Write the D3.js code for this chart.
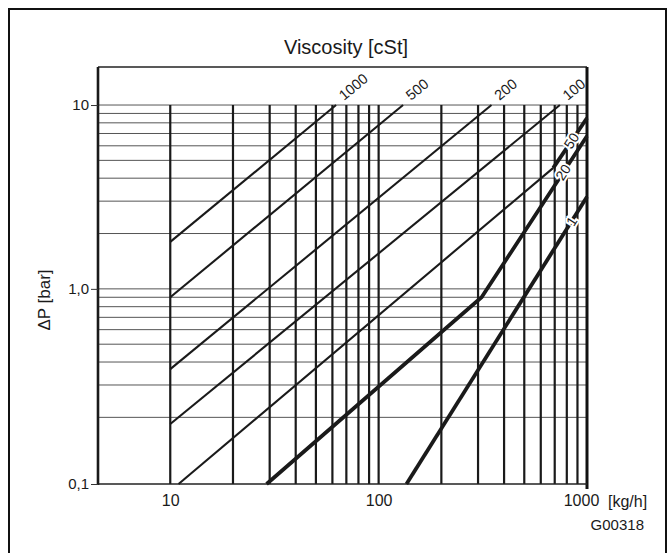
<!DOCTYPE html>
<html>
<head>
<meta charset="utf-8">
<script src="https://cdn.jsdelivr.net/npm/d3@7"></script>
<style>
    body { margin: 0; background: #fff; }
    svg text { font-family: "Liberation Sans", Arial, sans-serif; fill: #1a1a1a; }
</style>
</head>
<body>
<svg id="chart"></svg>
<script>
//Constants
const width = 671, height = 553;
const plot = {left: 98, top: 67, right: 587, bottom: 484};

//Data (flow in kg/h, pressure drop in bar)
const flowDomain = [4.5, 1000];
const dpDomain = [0.0868, 16.1];
const curve1000 = [[10, 1.8], [62.5, 10]];
const curve500 = [[10, 0.9], [131, 10]];
const curve200 = [[10, 0.366], [348, 10]];
const curve100 = [[10, 0.184], [741, 10]];
const curve50 = [[10.96, 0.0868], [689, 4.55], [1000, 8.5]];
const curve20 = [[29, 0.0868], [312, 0.9], [1000, 6.78]];
const curve1 = [[136, 0.0868], [1000, 3.17]];
const viscosities = ["1000", "500", "200", "100", "50", "20", "1"];
const inlineLabelFlow = [null, null, null, null, 843, 769, 843];

const flowGrid = [10, 20, 30, 40, 50, 60, 70, 80, 90, 100, 200, 300, 400, 500, 600, 700, 800, 900];
const dpGrid = [0.2, 0.3, 0.4, 0.5, 0.6, 0.7, 0.8, 0.9, 1, 2, 3, 4, 5, 6, 7, 8, 9, 10];
const flowTicks = [10, 100, 1000];
const flowTickLabels = ["10", "100", "1000"];
const dpTicks = [0.0868, 1, 10];
const dpTickLabels = ["0,1", "1,0", "10"];

// segment index from which a curve is drawn heavy
const heavyFrom = [99, 99, 99, 99, 1, 0, 0];

const svg = d3.select('#chart')
    .attr('width', width)
    .attr('height', height);

const x = d3.scaleLog().domain(flowDomain).range([plot.left, plot.right]);
const y = d3.scaleLog().domain(dpDomain).range([plot.bottom, plot.top]);

// outer frame
svg.append('rect')
    .attr('x', 9).attr('y', 9)
    .attr('width', 657).attr('height', 560)
    .attr('fill', 'none')
    .attr('stroke', '#111')
    .attr('stroke-width', 2);

// horizontal grid
svg.append('g').selectAll('line')
    .data(dpGrid)
    .enter().append('line')
    .attr('x1', plot.left).attr('x2', plot.right + 1)
    .attr('y1', d => y(d)).attr('y2', d => y(d))
    .attr('stroke', '#555')
    .attr('stroke-width', 1);

// vertical grid
svg.append('g').selectAll('line')
    .data(flowGrid)
    .enter().append('line')
    .attr('x1', d => x(d)).attr('x2', d => x(d))
    .attr('y1', y(10)).attr('y2', plot.bottom)
    .attr('stroke', '#1a1a1a')
    .attr('stroke-width', 2.2);

// plot frame
svg.append('line')
    .attr('x1', plot.left).attr('x2', plot.right)
    .attr('y1', plot.top).attr('y2', plot.top)
    .attr('stroke', '#222').attr('stroke-width', 1.5);
svg.append('line')
    .attr('x1', plot.left).attr('x2', plot.left)
    .attr('y1', plot.top).attr('y2', plot.bottom + 1)
    .attr('stroke', '#1a1a1a').attr('stroke-width', 2.6);
svg.append('line')
    .attr('x1', x(1000)).attr('x2', x(1000))
    .attr('y1', plot.top).attr('y2', plot.bottom + 5)
    .attr('stroke', '#111').attr('stroke-width', 3);
svg.append('line')
    .attr('x1', plot.left).attr('x2', plot.right)
    .attr('y1', plot.bottom).attr('y2', plot.bottom)
    .attr('stroke', '#222').attr('stroke-width', 1.5);

// curves
const curves = [curve1000, curve500, curve200, curve100, curve50, curve20, curve1];
const line = d3.line().x(d => x(d[0])).y(d => y(d[1]));
const curveG = svg.append('g');

curves.forEach((pts, i) => {
    if (heavyFrom[i] > 0) {
        curveG.append('path')
            .attr('d', line(pts.slice(0, Math.min(heavyFrom[i], pts.length - 1) + 1)))
            .attr('fill', 'none')
            .attr('stroke', '#1a1a1a')
            .attr('stroke-width', 2.1);
    }
    if (heavyFrom[i] < pts.length - 1) {
        curveG.append('path')
            .attr('d', line(pts.slice(heavyFrom[i])))
            .attr('fill', 'none')
            .attr('stroke', '#1a1a1a')
            .attr('stroke-width', 3.8);
    }
});

// viscosity labels
const labelG = svg.append('g');
curves.forEach((pts, i) => {
    if (inlineLabelFlow[i] === null) {
        const a = pts[pts.length - 2], b = pts[pts.length - 1];
        const ang = Math.atan2(y(b[1]) - y(a[1]), x(b[0]) - x(a[0])) * 180 / Math.PI;
        const px = x(b[0]) + 8, py = y(b[1]) - 4;
        labelG.append('text')
            .attr('transform', `translate(${px},${py}) rotate(${ang})`)
            .attr('font-size', 14.5)
            .text(viscosities[i]);
    } else {
        const fx = inlineLabelFlow[i];
        let k = 0;
        while (k < pts.length - 2 && pts[k + 1][0] < fx) k++;
        const a = pts[k], b = pts[k + 1];
        const t = (Math.log(fx) - Math.log(a[0])) / (Math.log(b[0]) - Math.log(a[0]));
        const fy = Math.exp(Math.log(a[1]) + t * (Math.log(b[1]) - Math.log(a[1])));
        const ang = Math.atan2(y(b[1]) - y(a[1]), x(b[0]) - x(a[0])) * 180 / Math.PI;
        labelG.append('text')
            .attr('transform', `translate(${x(fx)},${y(fy)}) rotate(${ang})`)
            .attr('font-size', 14)
            .attr('text-anchor', 'middle')
            .attr('dy', '0.35em')
            .attr('stroke', '#fff')
            .attr('stroke-width', 4)
            .attr('paint-order', 'stroke')
            .text(viscosities[i]);
    }
});

// axes
const yAxis = svg.append('g')
    .attr('transform', `translate(${plot.left},0)`)
    .call(d3.axisLeft(y).tickValues(dpTicks).tickSize(7).tickPadding(2)
        .tickFormat((d, i) => dpTickLabels[i]));
yAxis.select('.domain').remove();
yAxis.selectAll('line').attr('stroke', '#333');
yAxis.selectAll('text').attr('font-size', 15).attr('fill', '#1a1a1a').attr('font-family', null);

const xAxis = svg.append('g')
    .attr('transform', `translate(0,${plot.bottom})`)
    .call(d3.axisBottom(x).tickValues(flowTicks).tickSize(0).tickPadding(11)
        .tickFormat((d, i) => flowTickLabels[i]));
xAxis.select('.domain').remove();
xAxis.selectAll('text').attr('font-size', 16).attr('fill', '#1a1a1a').attr('font-family', null)
    .attr('dx', (d, i) => i === flowTicks.length - 1 ? -6 : 0);

// titles
svg.append('text')
    .attr('x', 346).attr('y', 54)
    .attr('text-anchor', 'middle')
    .attr('font-size', 20)
    .text('Viscosity [cSt]');

svg.append('text')
    .attr('transform', `translate(50,300) rotate(-90)`)
    .attr('text-anchor', 'middle')
    .attr('font-size', 17)
    .text('ΔP [bar]');

svg.append('text')
    .attr('x', 608).attr('y', 507)
    .attr('font-size', 16)
    .text('[kg/h]');

svg.append('text')
    .attr('x', 644).attr('y', 530)
    .attr('text-anchor', 'end')
    .attr('font-size', 15)
    .text('G00318');
</script>
</body>
</html>
